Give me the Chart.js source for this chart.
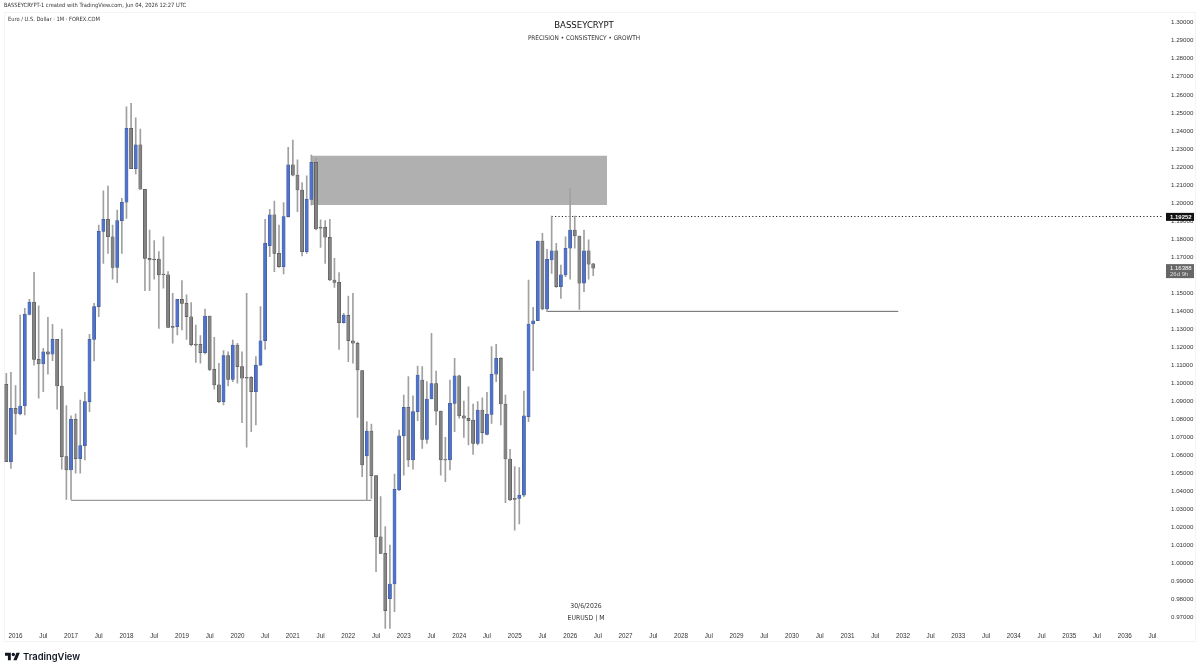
<!DOCTYPE html>
<html>
<head>
<meta charset="utf-8">
<title>EURUSD monthly</title>
<script src="https://cdn.jsdelivr.net/npm/chart.js@4"></script>
<style>
  html, body { margin: 0; padding: 0; background: #fff; }
  #wrap { position: relative; width: 1200px; height: 670px; overflow: hidden; font-family: "DejaVu Sans Condensed", sans-serif; color: #333; }
  #pane { position: absolute; left: 4px; top: 12px; width: 1192px; height: 630px; border: 1px solid #f4f4f4; box-sizing: border-box; }
  canvas { position: absolute; left: 0; top: 0; }
  .txt { position: absolute; white-space: nowrap; }
  .mid { left: 384px; width: 400px; text-align: center; }
  #logo { position: absolute; left: 5px; top: 651px; width: 15px; height: 12px; }
</style>
</head>
<body>
<div id="wrap">
  <div id="pane"></div>
  <canvas id="c" width="1200" height="670"></canvas>
  <div class="txt" style="left:4px;top:2px;font:5.7px 'DejaVu Sans Condensed'">BASSEYCRYPT-1 created with TradingView.com, Jun 04, 2026 12:27 UTC</div>
  <div class="txt" style="left:8px;top:16px;font:5.7px 'DejaVu Sans Condensed'">Euro / U.S. Dollar · 1M · FOREX.COM</div>
  <div class="txt mid" style="top:19px;font:9.5px 'DejaVu Sans Condensed';color:#111">BASSEYCRYPT</div>
  <div class="txt mid" style="top:34px;font:6.4px 'DejaVu Sans Condensed'">PRECISION • CONSISTENCY • GROWTH</div>
  <div class="txt mid" style="top:602px;font:6.8px 'DejaVu Sans Condensed';left:386px">30/6/2026</div>
  <div class="txt mid" style="top:614px;font:6.8px 'DejaVu Sans Condensed';left:386px">EURUSD | M</div>
  <svg id="logo" viewBox="0 0 36 28"><path fill="#131722" d="M14 22H7V11H0V4h14v18zM28 22h-8l7.5-18h8L28 22z"/><circle fill="#131722" cx="20" cy="8" r="4"/></svg>
  <div class="txt" style="left:23px;top:651px;font:600 9.4px Inter;color:#131722">TradingView</div>
</div>
<script>
// months from Nov 2015 to Sep 2036, the last candle is Jun 2026
const firstYear = 2015, firstMonth = 10, monthCount = 251;

const opens = [
  1.0994,1.0565,1.0861,1.0830,1.0874,1.1382,1.1451,1.1133,1.1107,1.1175,
  1.1162,1.1244,1.0985,1.0593,1.0519,1.0800,1.0582,1.0654,1.0898,1.1244,
  1.1425,1.1843,1.1909,1.1813,1.1643,1.1902,1.2004,1.2414,1.2190,1.2322,
  1.2076,1.1693,1.1689,1.1689,1.1606,1.1601,1.1316,1.1314,1.1466,1.1443,
  1.1369,1.1218,1.1216,1.1170,1.1373,1.1077,1.0991,1.0898,1.1153,1.1022,
  1.1212,1.1092,1.1033,1.1033,1.0954,1.1101,1.1236,1.1763,1.1935,1.1721,
  1.1647,1.1924,1.2211,1.2155,1.2072,1.1730,1.2020,1.2226,1.1865,1.1865,
  1.1810,1.1573,1.1560,1.1336,1.1377,1.1236,1.1222,1.1070,1.0597,1.0735,
  1.0488,1.0149,1.0057,0.9806,0.9887,1.0408,1.0708,1.0867,1.0575,1.0843,
  1.1018,1.0689,1.0913,1.0999,1.0846,1.0578,1.0575,1.0889,1.1041,1.0819,
  1.0806,1.0796,1.0667,1.0852,1.0717,1.0828,1.1050,1.1139,1.0885,1.0580,
  1.0362,1.0362,1.0380,1.0815,1.1329,1.1347,1.1789,1.1412,1.1684,1.1734,
  1.1536,1.1601,1.1749,1.1850,1.1817,1.1555,1.1734,1.1662
];
const highs = [
  1.1055,1.1061,1.0987,1.1379,1.1416,1.1466,1.1615,1.1429,1.1194,1.1366,
  1.1327,1.1244,1.1301,1.0876,1.0819,1.0830,1.0907,1.0950,1.1272,1.1443,
  1.1878,1.2068,1.2094,1.1878,1.1961,1.2026,1.2534,1.2553,1.2473,1.2410,
  1.2076,1.1850,1.1791,1.1730,1.1813,1.1619,1.1499,1.1466,1.1569,1.1490,
  1.1447,1.1323,1.1264,1.1412,1.1373,1.1255,1.1111,1.1181,1.1175,1.1240,
  1.1222,1.1175,1.1499,1.1037,1.1148,1.1425,1.1909,1.1965,1.2011,1.1878,
  1.2002,1.2309,1.2349,1.2239,1.2113,1.2150,1.2266,1.2248,1.1906,1.1902,
  1.1909,1.1693,1.1614,1.1388,1.1484,1.1499,1.1229,1.1070,1.0787,1.0774,
  1.0488,1.0371,1.0205,1.0103,1.0497,1.0741,1.0935,1.1037,1.0931,1.1096,
  1.1092,1.1009,1.1277,1.1068,1.0846,1.0700,1.1018,1.1139,1.1046,1.0902,
  1.0981,1.0885,1.0898,1.0920,1.0950,1.1203,1.1216,1.1142,1.0935,1.0634,
  1.0538,1.0532,1.0957,1.1573,1.1421,1.1789,1.1832,1.1743,1.1928,1.1776,
  1.1656,1.1813,1.2081,1.1928,1.1817,1.1850,1.1795,1.1665
];
const lows = [
  1.0565,1.0528,1.0717,1.0824,1.0824,1.1379,1.1101,1.0917,1.0954,1.1051,
  1.1125,1.0856,1.0523,1.0356,1.0356,1.0501,1.0501,1.0575,1.0843,1.1124,
  1.1369,1.1665,1.1721,1.1577,1.1558,1.1721,1.1915,1.2190,1.2161,1.2076,
  1.1514,1.1514,1.1577,1.1305,1.1527,1.1310,1.1222,1.1268,1.1296,1.1244,
  1.1207,1.1116,1.1111,1.1163,1.1070,1.0967,1.0893,1.0880,1.0985,1.1009,
  1.1000,1.0782,1.0645,1.0732,1.0769,1.1098,1.1188,1.1702,1.1619,1.1643,
  1.1606,1.1921,1.2150,1.1952,1.1706,1.1721,1.1989,1.1850,1.1754,1.1665,
  1.1569,1.1532,1.1188,1.1333,1.1120,1.1111,1.0811,1.0482,1.0353,1.0362,
  0.9955,1.0057,0.9641,0.9641,0.9733,1.0405,1.0491,1.0538,1.0523,1.0793,
  1.0639,1.0667,1.0913,1.0769,1.0491,1.0454,1.0519,1.0732,1.0806,1.0700,
  1.0658,1.0606,1.0658,1.0667,1.0713,1.0778,1.1009,1.0769,1.0338,1.0349,
  1.0186,1.0220,1.0371,1.0787,1.1070,1.1347,1.1407,1.1397,1.1610,1.1532,
  1.1471,1.1591,1.1577,1.1749,1.1410,1.1508,1.1577,1.1597
];
const closes = [
  1.0565,1.0861,1.0833,1.0874,1.1384,1.1451,1.1133,1.1107,1.1175,1.1162,
  1.1244,1.0985,1.0593,1.0519,1.0800,1.0582,1.0654,1.0898,1.1244,1.1425,
  1.1843,1.1909,1.1813,1.1643,1.1902,1.2004,1.2414,1.2190,1.2322,1.2076,
  1.1693,1.1684,1.1684,1.1601,1.1601,1.1310,1.1310,1.1466,1.1443,1.1369,
  1.1214,1.1212,1.1170,1.1373,1.1077,1.0991,1.0898,1.1153,1.1022,1.1212,
  1.1092,1.1028,1.1028,1.0954,1.1101,1.1236,1.1776,1.1935,1.1721,1.1647,
  1.1924,1.2211,1.2155,1.2072,1.1730,1.2020,1.2226,1.1856,1.1860,1.1810,
  1.1573,1.1560,1.1336,1.1379,1.1236,1.1222,1.1074,1.0547,1.0735,1.0488,
  1.0149,1.0057,0.9739,0.9887,1.0412,1.0708,1.0867,1.0575,1.0843,1.1046,
  1.0689,1.0913,1.0999,1.0846,1.0575,1.0575,1.0889,1.1041,1.0819,1.0806,
  1.0793,1.0667,1.0852,1.0726,1.0828,1.1050,1.1139,1.0885,1.0580,1.0353,
  1.0356,1.0380,1.0819,1.1329,1.1347,1.1789,1.1412,1.1688,1.1734,1.1536,
  1.1601,1.1749,1.1850,1.1817,1.1555,1.1734,1.1660,1.1639
];

// drawings on the chart: [start month, end month, price]
const zoneStart = '2021-05', zoneEnd = '2026-09', zoneTop = 1.2262, zoneBottom = 1.1989;
const lowLine = ['2017-01', '2022-06', 1.0351];
const midLine = ['2025-08', '2031-12', 1.1399];
const dottedLine = ['2025-09', '2036-09', 1.19252];
const lastPrice = 1.16388, countdown = '26d 9h';

const labels = [];
for (let i = 0; i < monthCount; i++) {
  const m = firstMonth + i;
  const y = firstYear + Math.floor(m / 12);
  labels.push(y + '-' + String(m % 12 + 1).padStart(2, '0'));
}

const BLUE = '#4f72cb', GREY = '#848484';
const isUp = opens.map((o, i) => closes[i] >= o);

function hline(l, color, width, dash, order) {
  return {
    type: 'line', order,
    data: [{ x: l[0], y: l[2] }, { x: l[1], y: l[2] }],
    borderColor: color, borderWidth: width, borderDash: dash,
    pointRadius: 0, fill: false
  };
}

// price tags on the right axis
const tagPlugin = {
  id: 'tags',
  afterDraw(chart) {
    const { ctx, scales: { y } } = chart;
    const py = y.getPixelForValue(dottedLine[2]);
    ctx.save();
    ctx.textBaseline = 'middle';
    ctx.textAlign = 'left';
    ctx.fillStyle = '#111';
    ctx.fillRect(1166, py - 3.6, 28, 8);
    ctx.fillStyle = '#fff';
    ctx.font = 'bold 6px "Liberation Sans"';
    ctx.fillText(dottedLine[2].toFixed(5), 1170, py + 0.5);

    const pl = y.getPixelForValue(lastPrice);
    ctx.fillStyle = '#666';
    ctx.fillRect(1166, pl - 4, 28, 14);
    ctx.fillStyle = '#fff';
    ctx.font = '6px "Liberation Sans"';
    ctx.fillText(lastPrice.toFixed(5), 1170, pl);
    ctx.fillStyle = '#ddd';
    ctx.fillText(countdown, 1170, pl + 6.4);
    ctx.restore();
  }
};

new Chart(document.getElementById('c'), {
  data: {
    labels,
    datasets: [
      {
        type: 'bar', order: 1, grouped: false,
        data: opens.map((o, i) => [o, closes[i]]),
        backgroundColor: isUp.map(u => u ? BLUE : GREY),
        borderColor: isUp.map(u => u ? '#3f5288' : '#474747'),
        borderWidth: 0.5, borderSkipped: false, barThickness: 3.2
      },
      {
        type: 'bar', order: 2, grouped: false,
        data: lows.map((l, i) => [l, highs[i]]),
        backgroundColor: '#a0a0a0', barThickness: 1
      },
      hline(lowLine, '#9a9a9a', 1.2, [], 3),
      hline(midLine, '#555', 0.9, [], 3),
      hline(dottedLine, '#222', 1.1, [1.2, 2.2], 3),
      {
        type: 'line', order: 5,
        data: [{ x: zoneStart, y: zoneTop }, { x: zoneEnd, y: zoneTop }],
        borderWidth: 0, pointRadius: 0,
        fill: { value: zoneBottom }, backgroundColor: '#b0b0b0'
      }
    ]
  },
  options: {
    responsive: false,
    animation: false,
    layout: { padding: { left: 4, top: 13.7, bottom: 26.3, right: 0 } },
    plugins: { legend: { display: false }, tooltip: { enabled: false } },
    scales: {
      x: {
        type: 'category',
        grid: { display: false, drawTicks: false }, border: { display: false },
        afterFit(s) { s.height = 14; },
        ticks: {
          autoSkip: false, maxRotation: 0, padding: 2.5,
          color: '#333', font: { size: 6.3, family: 'Liberation Sans' },
          callback(v) {
            const parts = this.getLabelForValue(v).split('-');
            if (parts[1] === '01') return parts[0];
            if (parts[1] === '07') return 'Jul';
            return null;
          }
        }
      },
      y: {
        position: 'right',
        min: 0.96333, max: 1.30499,
        grid: { display: false, drawTicks: false }, border: { display: false },
        afterFit(s) { s.width = 36; },
        ticks: {
          stepSize: 0.01, includeBounds: false, padding: 7,
          color: '#333', font: { size: 6.2, family: 'Liberation Sans' },
          callback: v => v.toFixed(5)
        }
      }
    }
  },
  plugins: [tagPlugin]
});
</script>
</body>
</html>
